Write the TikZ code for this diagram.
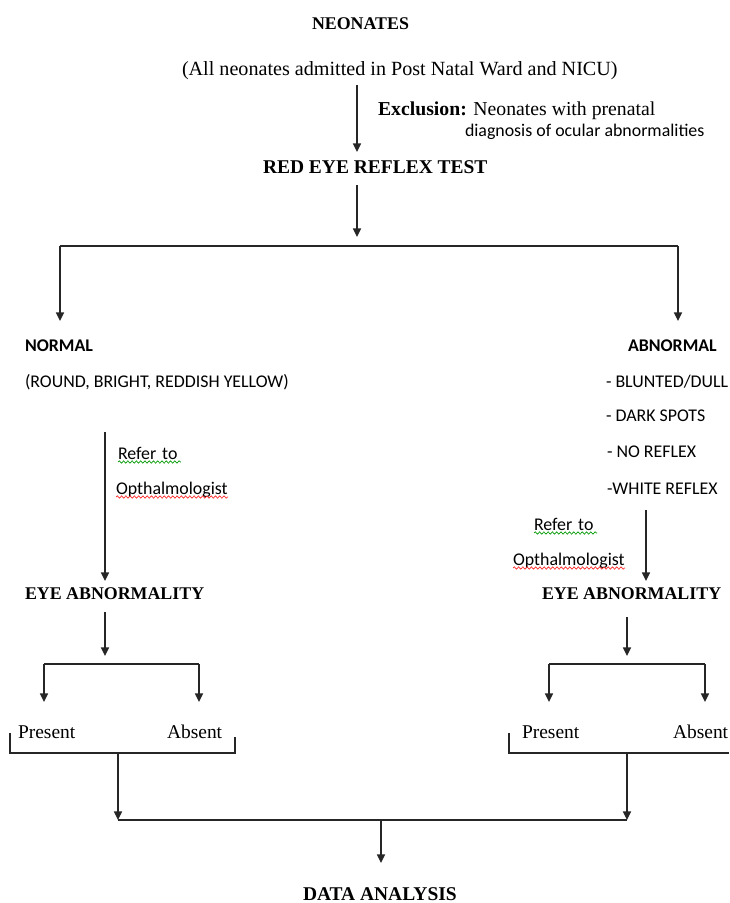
\documentclass[tikz,border=0pt]{standalone}
\usepackage{fontspec}
\setmainfont{Liberation Serif}
\newfontfamily\calfont{Carlito}
\usetikzlibrary{arrows.meta,decorations.pathmorphing}
\begin{document}
\begin{tikzpicture}[x=0.75pt,y=-0.75pt,
  every node/.style={inner sep=0pt,outer sep=0pt,anchor=base west},
  hd/.style={font=\fontsize{13.4}{16}\selectfont\bfseries},
  hdl/.style={font=\fontsize{14.6}{16}\selectfont\bfseries},
  sr/.style={font=\fontsize{14.6}{16}\selectfont},
  cb/.style={font=\calfont\fontsize{13.4}{15}\selectfont},
  cbb/.style={font=\calfont\fontsize{13.4}{15}\selectfont\bfseries},
  ln/.style={line width=1.1pt,draw=black!85},
  arr/.style={ln,-{Triangle[width=6pt,length=6.5pt]}},
  sq/.style={line width=0.5pt,decorate,decoration={snake,amplitude=0.9pt,segment length=3.2pt}}]
\useasboundingbox[fill=white] (0,0) rectangle (729,903);
% texts
\node[hd] (neo) at (312,29) {NEONATES};
\node[sr,font=\fontsize{15.1}{16}\selectfont] (all) at (182,75) {(All neonates admitted in Post Natal Ward and NICU)};
\node[sr,font=\fontsize{14.8}{16}\selectfont] (excl) at (378,115) {\textbf{Exclusion:} Neonates with prenatal};
\node[cb] (diag) at (465,136) {diagnosis of ocular abnormalities};
\node[hdl] (red) at (263,173) {RED EYE REFLEX TEST};
\node[cbb] (nor) at (25,351) {NORMAL};
\node[cb] (round) at (25,387) {(ROUND, BRIGHT, REDDISH YELLOW)};
\node[cbb] (abn) at (628,351) {ABNORMAL};
\node[cb] (blu) at (606,387) {- BLUNTED/DULL};
\node[cb] (dark) at (606,421) {- DARK SPOTS};
\node[cb] (nore) at (607,457) {- NO REFLEX};
\node[cb] (white) at (607,494) {-WHITE REFLEX};
\node[cb] (refL) at (118,459) {Refer\,\,to};
\node[cb] (ophL) at (116,494) {Opthalmologist};
\node[cb] (refR) at (534,530) {Refer\,\,to};
\node[cb] (ophR) at (513,565) {Opthalmologist};
\node[hd] (eyeL) at (25,599) {EYE ABNORMALITY};
\node[hd] (eyeR) at (542,599) {EYE ABNORMALITY};
\node[sr] (preL) at (18,738) {Present};
\node[sr] (absL) at (167,738) {Absent};
\node[sr] (preR) at (522,738) {Present};
\node[sr] (absR) at (673,738) {Absent};
\node[hdl] (data) at (303,900) {DATA ANALYSIS};
% squiggles
\draw[sq,draw=green!60!black] (refL.base west)++(0,3) -- ++(63,0);
\draw[sq,draw=red!85] (ophL.base west)++(0,3) -- ++(112,0);
\draw[sq,draw=green!60!black] (refR.base west)++(0,3) -- ++(63,0);
\draw[sq,draw=red!85] (ophR.base west)++(0,3) -- ++(112,0);
% coordinates
\coordinate (a1) at (357,85);  \coordinate (a2) at (357,152);
\coordinate (b1) at (357,185); \coordinate (b2) at (357,237);
\coordinate (hl) at (60,246);  \coordinate (hr) at (678,246);
\coordinate (tl) at (60,321);  \coordinate (tr) at (678,321);
\coordinate (rl1) at (105,432); \coordinate (rl2) at (105,581);
\coordinate (rr1) at (646,510); \coordinate (rr2) at (646,581);
\coordinate (el1) at (105,612); \coordinate (el2) at (105,656);
\coordinate (er1) at (627,617); \coordinate (er2) at (627,656);
\coordinate (bl1) at (44,664); \coordinate (bl2) at (199,664);
\coordinate (br1) at (549,664); \coordinate (br2) at (705,664);
\coordinate (ql1) at (10,733); \coordinate (ql2) at (10,753);
\coordinate (ql3) at (235,753); \coordinate (ql4) at (235,737);
\coordinate (qr1) at (509,733); \coordinate (qr2) at (509,753);
\coordinate (qr3) at (729,753);
\coordinate (dl1) at (118,753); \coordinate (dl2) at (118,820);
\coordinate (dr1) at (627,753); \coordinate (dr2) at (627,820);
\coordinate (dm1) at (381,820); \coordinate (dm2) at (381,863);
% connectors
\draw[arr] (a1) -- (a2);
\draw[arr] (b1) -- (b2);
\draw[ln] (hl) -- (hr);
\draw[arr] (hl) -- (tl);
\draw[arr] (hr) -- (tr);
\draw[arr] (rl1) -- (rl2);
\draw[arr] (rr1) -- (rr2);
\draw[arr] (el1) -- (el2);
\draw[arr] (er1) -- (er2);
\draw[ln] (bl1) -- (bl2);
\draw[arr] (bl1) -- ++(0,38);
\draw[arr] (bl2) -- ++(0,38);
\draw[ln] (br1) -- (br2);
\draw[arr] (br1) -- ++(0,38);
\draw[arr] (br2) -- ++(0,38);
\draw[ln] (ql1) -- (ql2) -- (ql3) -- (ql4);
\draw[ln] (qr1) -- (qr2) -- (qr3);
\draw[arr] (dl1) -- (dl2);
\draw[arr] (dr1) -- (dr2);
\draw[ln] (dl2) -- (dr2);
\draw[arr] (dm1) -- (dm2);
\end{tikzpicture}
\end{document}
